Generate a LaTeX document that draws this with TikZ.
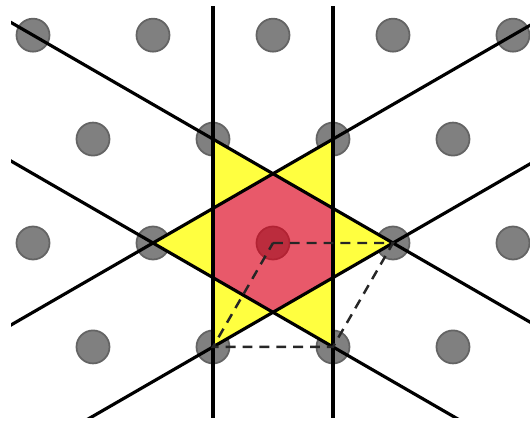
\documentclass[tikz,border=0pt]{standalone}
\usepackage{tikz}
\usetikzlibrary{calc}

\definecolor{dotgray}{RGB}{128,128,128}
\definecolor{dotedge}{RGB}{100,100,100}
\definecolor{staryellow}{RGB}{255,255,64}
\definecolor{hexred}{RGB}{220,0,26}

\begin{document}
\begin{tikzpicture}[x=1.2cm, y=1.2cm,
  dot/.style={circle, fill=dotgray, draw=dotedge, line width=0.5pt,
              minimum size=0.33cm, inner sep=0pt},
  latline/.style={line width=0.9pt, black, shorten <=-4cm, shorten >=-4cm},
  cellline/.style={line width=0.7pt, black!85, dash pattern=on 2.8pt off 2pt}
]
\useasboundingbox (-2.275,-1.4833) rectangle (2.1417,2.025);

% triangular lattice
\foreach \x [count=\i] in {-2,...,2} {
  \node[dot] (t\i) at (\x, {sqrt(3)}) {};
  \node[dot] (c\i) at (\x, 0) {};
}
\foreach \x [count=\i] in {-1.5,-0.5,0.5,1.5} {
  \node[dot] (u\i) at (\x, {sqrt(3)/2}) {};
  \node[dot] (b\i) at (\x, {-sqrt(3)/2}) {};
}

% corners of the inner hexagon
\foreach \a [count=\k] in {90,150,...,390}
  \coordinate (h\k) at (\a:{1/sqrt(3)});

% star points
\fill[staryellow, even odd rule]
  (u2.center) -- (h1) -- (u3.center) -- (h6) -- (c4.center) -- (h5) --
  (b3.center) -- (h4) -- (b2.center) -- (h3) -- (c2.center) -- (h2) -- cycle
  (h1) -- (h2) -- (h3) -- (h4) -- (h5) -- (h6) -- cycle;
\fill[hexred, fill opacity=0.65]
  (h1) -- (h2) -- (h3) -- (h4) -- (h5) -- (h6) -- cycle;

% the six lines
\begin{scope}
  \clip (-2.183,-1.458) rectangle (2.2,1.967);
  \draw[latline] (u2.center) -- (b2.center);
  \draw[latline] (u3.center) -- (b3.center);
  \draw[latline] (u2.center) -- (c4.center);
  \draw[latline] (c2.center) -- (u3.center);
  \draw[latline] (c2.center) -- (b3.center);
  \draw[latline] (b2.center) -- (c4.center);
\end{scope}

% unit cell
\draw[cellline] (c3.center) -- (c4.center) -- (b3.center) -- (b2.center) -- cycle;
\end{tikzpicture}
\end{document}
